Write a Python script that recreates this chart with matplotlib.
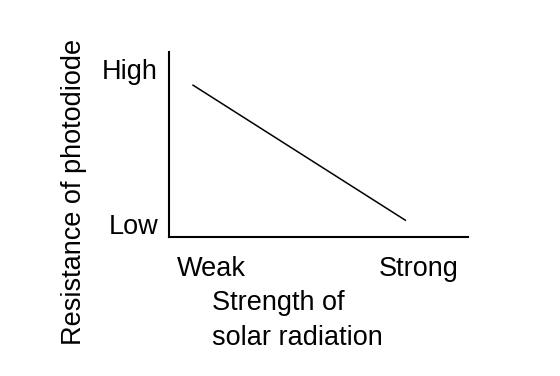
import matplotlib
matplotlib.use('Agg')
import matplotlib.pyplot as plt

plt.rcParams['font.family'] = ['Liberation Sans', 'DejaVu Sans']

# data (arbitrary units)
strength = [0.8, 7.9]
resistance = [8.2, 0.9]
yTickPos = [0.7, 9.1]
yTickLabels = ['Low', 'High']
xTickPos = [1.4, 8.33]
xTickLabels = ['Weak', 'Strong']

FS = 19.5

fig = plt.figure(figsize=(5.6, 3.76), dpi=100)
ax = fig.add_axes([0.302, 0.370, 0.534, 0.492])

ax.plot(strength, resistance, 'k-', lw=1.1)
ax.set_xlim(0, 10)
ax.set_ylim(0, 10)

ax.spines['top'].set_visible(False)
ax.spines['right'].set_visible(False)
ax.spines['left'].set_linewidth(1.5)
ax.spines['bottom'].set_linewidth(1.5)

ax.set_yticks(yTickPos)
ax.set_yticklabels(yTickLabels, fontsize=FS)
ax.set_xticks(xTickPos)
ax.set_xticklabels(xTickLabels, fontsize=FS)
ax.tick_params(axis='both', length=0)
ax.tick_params(axis='y', pad=8)
ax.tick_params(axis='x', pad=14)

fig.text(0.133, 0.489, 'Resistance of photodiode', rotation=90,
         ha='center', va='center', fontsize=FS)
fig.text(0.379, 0.148, 'Strength of\nsolar radiation', ha='left',
         va='center', fontsize=FS, linespacing=1.45)

fig.savefig('out.png', dpi=100)
